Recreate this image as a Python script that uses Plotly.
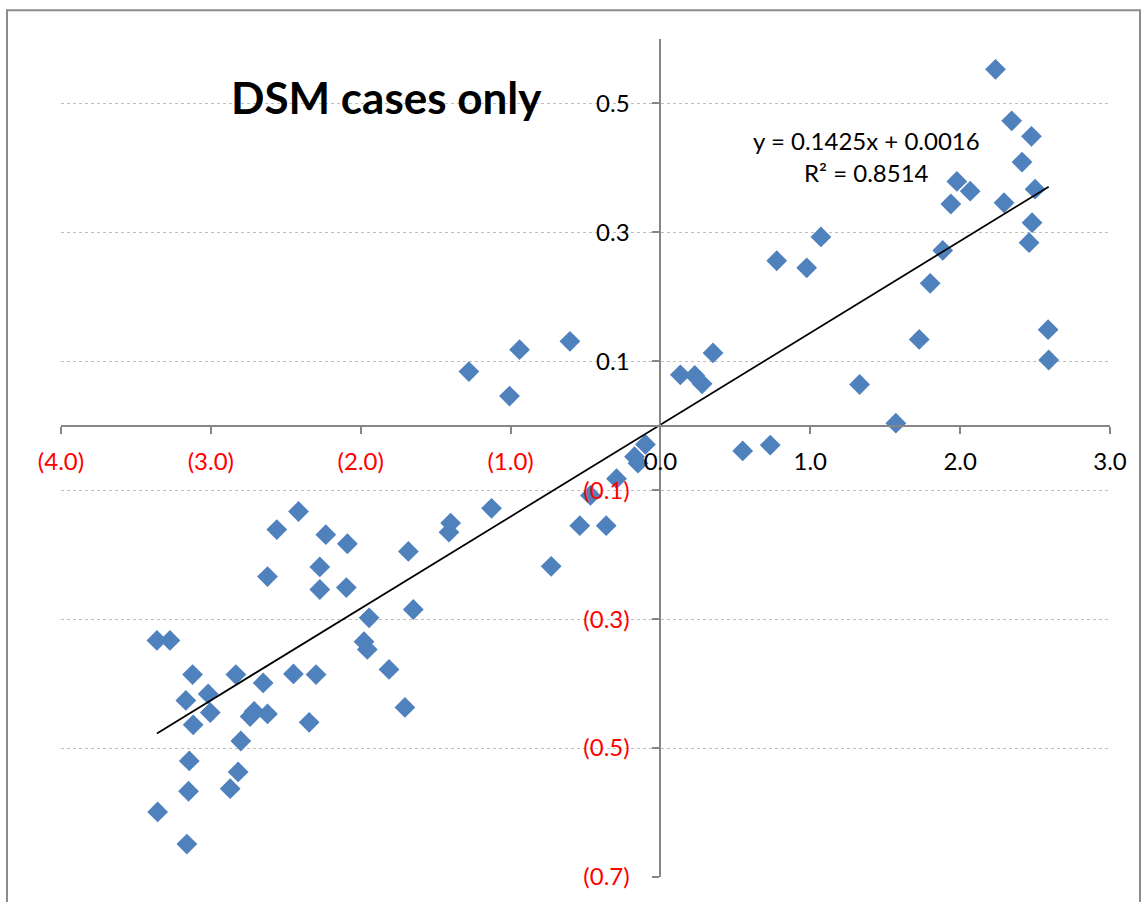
import plotly.graph_objects as go

# ---------------- data ----------------
x_values = [
    2.236, 2.344, 2.476, 2.413, 1.978, 2.067, 2.500, 1.938, 2.293, 2.480,
    2.460, 1.884, 1.800, 1.071, 0.776, 0.976, 2.587, 2.591, 1.727, 1.329,
    1.571, 0.733, 0.549, 0.133, 0.229, 0.278, 0.351,
    -1.278, -1.007, -0.940, -0.604,
    -0.100, -0.173, -0.150, -0.293, -0.467, -0.538, -0.362, -0.729, -1.127,
    -1.400, -1.411, -1.682, -1.649, -1.944,
    -2.415, -2.560, -2.233, -2.089, -2.273, -2.622, -2.273, -2.096, -3.360,
    -3.273, -1.978, -1.956, -1.811, -3.122, -2.833, -2.449, -2.298, -2.651,
    -3.018, -3.167, -3.004, -2.711, -2.738, -2.622, -3.118, -2.344, -1.705,
    -2.800, -3.144, -2.818, -3.149, -2.871, -3.355, -3.160,
]
y_values = [
    0.553, 0.473, 0.449, 0.409, 0.379, 0.364, 0.367, 0.344, 0.346, 0.315,
    0.284, 0.272, 0.221, 0.293, 0.256, 0.245, 0.149, 0.102, 0.134, 0.064,
    0.004, -0.030, -0.039, 0.079, 0.078, 0.065, 0.113,
    0.084, 0.046, 0.118, 0.131,
    -0.029, -0.048, -0.058, -0.082, -0.108, -0.155, -0.155, -0.218, -0.128,
    -0.151, -0.165, -0.195, -0.285, -0.298,
    -0.133, -0.161, -0.169, -0.183, -0.219, -0.234, -0.254, -0.251, -0.333,
    -0.333, -0.335, -0.347, -0.378, -0.386, -0.386, -0.385, -0.386, -0.399,
    -0.416, -0.426, -0.445, -0.443, -0.451, -0.447, -0.464, -0.460, -0.437,
    -0.489, -0.520, -0.537, -0.567, -0.563, -0.599, -0.649,
]

x_tick_vals = [-4, -3, -2, -1, 0, 1, 2, 3]
x_tick_labels = ["(4.0)", "(3.0)", "(2.0)", "(1.0)", "0.0", "1.0", "2.0", "3.0"]
y_tick_vals = [-0.7, -0.5, -0.3, -0.1, 0.1, 0.3, 0.5]
y_tick_labels = ["(0.7)", "(0.5)", "(0.3)", "(0.1)", "0.1", "0.3", "0.5"]

trend_slope = 0.1425
trend_intercept = 0.0016

title_text = "DSM cases only"
equation_text = "y = 0.1425x + 0.0016"
r2_text = "R² = 0.8514"

# ---------------- styling ----------------
FONT = "Lato, 'Open Sans', sans-serif"
AXIS_GREY = "#868686"
MARKER_BLUE = "#4F81BD"
TICK_SIZE = 24


def colour_label(label):
    if label.startswith("("):
        return '<span style="color:#FF0000">' + label + "</span>"
    return label


X_RANGE = [-4, 3]
Y_RANGE = [-0.7, 0.6]

trend_x = [min(x_values), max(x_values)]
trend_y = [trend_slope * v + trend_intercept for v in trend_x]

fig = go.Figure()
fig.add_trace(go.Scatter(
    x=x_values, y=y_values, mode="markers",
    marker=dict(symbol="diamond", size=16, color=MARKER_BLUE,
                line=dict(width=0)),
    showlegend=False, hoverinfo="x+y",
))
fig.add_trace(go.Scatter(
    x=trend_x, y=trend_y, mode="lines",
    line=dict(color="black", width=1.75),
    showlegend=False, hoverinfo="skip",
))

x_axis_pos = (0 - Y_RANGE[0]) / (Y_RANGE[1] - Y_RANGE[0])
y_axis_pos = (0 - X_RANGE[0]) / (X_RANGE[1] - X_RANGE[0])

fig.update_layout(
    width=1145, height=902,
    margin=dict(l=61, r=35, t=39, b=21, pad=0),
    paper_bgcolor="white", plot_bgcolor="white",
    font=dict(family=FONT, size=TICK_SIZE, color="black"),
    xaxis=dict(
        range=X_RANGE, tickmode="array", tickvals=x_tick_vals,
        ticktext=[colour_label(t) for t in x_tick_labels],
        showgrid=False, zeroline=False,
        showline=True, linecolor=AXIS_GREY, linewidth=2,
        ticks="outside", ticklen=7, tickwidth=2, tickcolor=AXIS_GREY,
        anchor="free", position=x_axis_pos,
        ticklabelstandoff=7,
        tickfont=dict(family=FONT, size=TICK_SIZE, color="black"),
        fixedrange=True,
    ),
    yaxis=dict(
        range=Y_RANGE, tickmode="array", tickvals=y_tick_vals,
        ticktext=[colour_label(t) for t in y_tick_labels],
        showgrid=True, gridcolor="#BFBFBF", gridwidth=1.2, griddash="dot",
        zeroline=False,
        showline=True, linecolor=AXIS_GREY, linewidth=2,
        ticks="outside", ticklen=7, tickwidth=2, tickcolor=AXIS_GREY,
        anchor="free", position=y_axis_pos,
        ticklabelstandoff=18,
        tickfont=dict(family=FONT, size=TICK_SIZE, color="black"),
        fixedrange=True,
    ),
)

# chart frame
plot_w = 1145 - 61 - 35
plot_h = 902 - 39 - 21
def px_to_paper_x(px):
    return (px - 61) / plot_w
def px_to_paper_y(py):
    return (902 - 21 - py) / plot_h

fig.add_shape(type="rect", xref="paper", yref="paper",
              x0=px_to_paper_x(7), x1=px_to_paper_x(1140),
              y0=px_to_paper_y(930), y1=px_to_paper_y(10),
              line=dict(color="#8C8C8C", width=2), layer="below")

fig.add_annotation(text="<b>" + title_text + "</b>", xref="paper", yref="paper",
                   x=px_to_paper_x(386), y=px_to_paper_y(97),
                   xanchor="center", yanchor="middle", showarrow=False,
                   font=dict(family=FONT, size=44, color="black"))
fig.add_annotation(text=equation_text, xref="paper", yref="paper",
                   x=px_to_paper_x(866.5), y=px_to_paper_y(141),
                   xanchor="center", yanchor="middle", showarrow=False,
                   font=dict(family=FONT, size=24, color="black"))
fig.add_annotation(text=r2_text, xref="paper", yref="paper",
                   x=px_to_paper_x(866.5), y=px_to_paper_y(173),
                   xanchor="center", yanchor="middle", showarrow=False,
                   font=dict(family=FONT, size=24, color="black"))

fig.write_html("out.html",
               config={"displayModeBar": False},
               post_script="document.body.style.margin='0';"
                           "document.body.style.overflow='hidden';")
